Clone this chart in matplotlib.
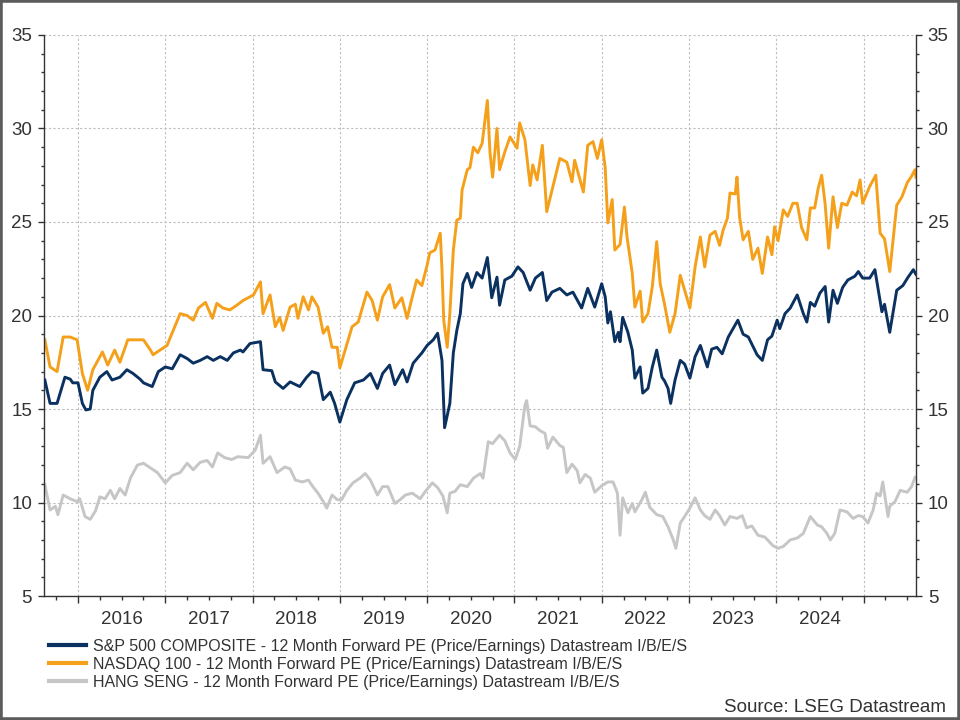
import matplotlib
matplotlib.use("Agg")
import matplotlib.pyplot as plt
from matplotlib.ticker import FixedLocator, MultipleLocator, FuncFormatter, NullFormatter
from matplotlib.patches import Rectangle
from matplotlib.lines import Line2D

plt.rcParams["font.family"] = ["Liberation Sans", "DejaVu Sans"]

# 12 month forward PE, (decimal year, value)
sp500 = [
    (2015.62, 16.55), (2015.68, 15.3), (2015.76, 15.3), (2015.85, 16.7), (2015.91, 16.6),
    (2015.94, 16.4), (2016.00, 16.4), (2016.05, 15.3), (2016.09, 14.95), (2016.14, 15.0),
    (2016.17, 16.0), (2016.25, 16.7), (2016.33, 17.0), (2016.39, 16.55), (2016.48, 16.7),
    (2016.56, 17.1), (2016.63, 16.9), (2016.71, 16.6), (2016.75, 16.4), (2016.85, 16.2),
    (2016.92, 17.0), (2017.00, 17.25), (2017.08, 17.15), (2017.17, 17.9), (2017.25, 17.7),
    (2017.32, 17.45), (2017.40, 17.6), (2017.48, 17.8), (2017.55, 17.6), (2017.63, 17.8),
    (2017.71, 17.6), (2017.78, 18.0), (2017.86, 18.15), (2017.89, 18.05), (2017.97, 18.5),
    (2018.09, 18.6), (2018.12, 17.1), (2018.22, 17.05), (2018.26, 16.45), (2018.35, 16.1),
    (2018.43, 16.45), (2018.54, 16.2), (2018.62, 16.7), (2018.68, 17.0), (2018.75, 16.9),
    (2018.81, 15.5), (2018.89, 15.9), (2018.94, 15.3), (2019.00, 14.3), (2019.08, 15.5),
    (2019.17, 16.4), (2019.27, 16.55), (2019.35, 16.9), (2019.43, 16.1), (2019.49, 16.9),
    (2019.57, 17.35), (2019.63, 16.3), (2019.72, 17.1), (2019.77, 16.45), (2019.84, 17.45),
    (2019.94, 18.0), (2020.00, 18.4), (2020.07, 18.7), (2020.12, 19.05), (2020.17, 17.6),
    (2020.20, 14.0), (2020.26, 15.3), (2020.30, 18.0), (2020.34, 19.2), (2020.38, 20.1),
    (2020.41, 21.7), (2020.46, 22.25), (2020.51, 21.5), (2020.57, 22.3), (2020.63, 22.0),
    (2020.69, 23.1), (2020.74, 20.95), (2020.80, 22.05), (2020.83, 20.55), (2020.89, 21.9),
    (2020.97, 22.1), (2021.04, 22.6), (2021.10, 22.3), (2021.18, 21.35), (2021.24, 22.0),
    (2021.32, 22.3), (2021.37, 20.8), (2021.43, 21.25), (2021.52, 21.45), (2021.60, 21.1),
    (2021.67, 21.25), (2021.77, 20.4), (2021.84, 21.45), (2021.92, 20.45), (2022.00, 21.7),
    (2022.04, 21.0), (2022.07, 19.6), (2022.10, 20.2), (2022.15, 18.6), (2022.19, 19.1),
    (2022.21, 18.6), (2022.24, 19.9), (2022.30, 19.1), (2022.35, 18.15), (2022.38, 16.65),
    (2022.44, 17.25), (2022.47, 15.85), (2022.53, 16.1), (2022.58, 17.25), (2022.63, 18.15),
    (2022.69, 16.7), (2022.72, 16.5), (2022.76, 16.1), (2022.79, 15.3), (2022.84, 16.55),
    (2022.90, 17.6), (2022.95, 17.4), (2023.01, 16.65), (2023.07, 17.8), (2023.13, 18.4),
    (2023.21, 17.25), (2023.26, 18.2), (2023.32, 18.3), (2023.38, 17.95), (2023.45, 18.85),
    (2023.56, 19.75), (2023.62, 19.0), (2023.68, 18.85), (2023.78, 17.9), (2023.84, 17.6),
    (2023.90, 18.7), (2023.95, 18.9), (2024.01, 19.75), (2024.04, 19.3), (2024.10, 20.1),
    (2024.16, 20.4), (2024.24, 21.1), (2024.31, 20.1), (2024.35, 19.65), (2024.39, 20.7),
    (2024.44, 20.5), (2024.50, 21.2), (2024.56, 21.55), (2024.60, 19.65), (2024.65, 21.35),
    (2024.70, 20.65), (2024.76, 21.5), (2024.82, 21.9), (2024.90, 22.1), (2024.94, 22.35),
    (2024.99, 22.0), (2025.07, 22.0), (2025.13, 22.45), (2025.21, 20.2), (2025.24, 20.6),
    (2025.30, 19.1), (2025.38, 21.35), (2025.45, 21.6), (2025.51, 22.05), (2025.57, 22.45),
    (2025.60, 22.2),
]

nasdaq = [
    (2015.62, 18.7), (2015.68, 17.25), (2015.76, 17.0), (2015.83, 18.85), (2015.91, 18.85),
    (2015.99, 18.7), (2016.05, 16.9), (2016.11, 16.0), (2016.17, 17.1), (2016.28, 18.05),
    (2016.34, 17.35), (2016.42, 18.15), (2016.48, 17.5), (2016.57, 18.7), (2016.68, 18.7),
    (2016.75, 18.7), (2016.83, 18.15), (2016.86, 17.9), (2016.94, 18.15), (2017.02, 18.4),
    (2017.09, 19.2), (2017.17, 20.1), (2017.25, 20.0), (2017.32, 19.75), (2017.38, 20.4),
    (2017.46, 20.7), (2017.54, 19.85), (2017.59, 20.65), (2017.66, 20.4), (2017.74, 20.3),
    (2017.82, 20.55), (2017.89, 20.8), (2018.01, 21.1), (2018.09, 21.8), (2018.12, 20.1),
    (2018.20, 21.1), (2018.26, 19.4), (2018.31, 19.9), (2018.35, 19.2), (2018.43, 20.45),
    (2018.49, 20.6), (2018.52, 19.85), (2018.58, 21.0), (2018.64, 20.3), (2018.68, 21.0),
    (2018.75, 20.45), (2018.81, 19.05), (2018.86, 19.4), (2018.91, 18.3), (2018.97, 18.3),
    (2019.00, 17.2), (2019.06, 18.15), (2019.14, 19.4), (2019.21, 19.65), (2019.31, 21.25),
    (2019.37, 20.8), (2019.43, 19.75), (2019.49, 21.0), (2019.57, 21.65), (2019.63, 20.4),
    (2019.71, 20.95), (2019.77, 19.85), (2019.83, 21.0), (2019.88, 21.9), (2019.94, 21.6),
    (2020.00, 22.7), (2020.03, 23.35), (2020.09, 23.5), (2020.15, 24.4), (2020.17, 22.45),
    (2020.19, 19.75), (2020.23, 18.3), (2020.26, 20.1), (2020.30, 23.5), (2020.34, 25.1),
    (2020.38, 25.2), (2020.40, 26.7), (2020.43, 27.25), (2020.46, 27.8), (2020.49, 27.9),
    (2020.53, 29.0), (2020.58, 28.7), (2020.63, 29.2), (2020.69, 31.5), (2020.72, 28.7),
    (2020.75, 27.4), (2020.80, 30.0), (2020.83, 27.8), (2020.89, 28.75), (2020.95, 29.55),
    (2021.03, 28.95), (2021.06, 30.3), (2021.12, 29.4), (2021.18, 26.95), (2021.21, 28.05),
    (2021.26, 27.25), (2021.32, 29.1), (2021.37, 25.55), (2021.43, 26.7), (2021.52, 28.4),
    (2021.60, 28.2), (2021.66, 27.15), (2021.69, 28.3), (2021.79, 26.6), (2021.84, 29.1),
    (2021.90, 29.3), (2021.95, 28.4), (2022.00, 29.4), (2022.04, 27.9), (2022.07, 24.95),
    (2022.12, 26.2), (2022.15, 23.5), (2022.21, 23.8), (2022.26, 25.8), (2022.29, 24.2),
    (2022.35, 22.25), (2022.38, 20.45), (2022.44, 21.3), (2022.47, 19.65), (2022.53, 20.1),
    (2022.58, 21.55), (2022.63, 23.95), (2022.67, 21.7), (2022.72, 20.6), (2022.78, 19.1),
    (2022.84, 20.1), (2022.90, 22.15), (2022.95, 21.35), (2023.01, 20.4), (2023.07, 22.6),
    (2023.13, 24.2), (2023.18, 22.6), (2023.24, 24.3), (2023.30, 24.5), (2023.35, 23.75),
    (2023.39, 24.55), (2023.44, 25.2), (2023.47, 26.55), (2023.53, 26.5), (2023.55, 27.4),
    (2023.58, 25.25), (2023.62, 24.05), (2023.68, 24.5), (2023.73, 23.0), (2023.79, 23.6),
    (2023.84, 22.25), (2023.90, 24.2), (2023.95, 23.25), (2023.98, 24.75), (2024.02, 24.0),
    (2024.08, 25.65), (2024.13, 25.3), (2024.19, 26.0), (2024.24, 26.0), (2024.29, 24.7),
    (2024.35, 24.05), (2024.39, 25.75), (2024.44, 25.75), (2024.48, 26.8), (2024.52, 27.5),
    (2024.56, 25.95), (2024.60, 23.6), (2024.65, 26.35), (2024.70, 24.7), (2024.75, 26.0),
    (2024.81, 25.9), (2024.87, 26.6), (2024.92, 26.4), (2024.96, 27.25), (2024.99, 26.0),
    (2025.07, 26.9), (2025.14, 27.5), (2025.19, 24.4), (2025.24, 24.1), (2025.30, 22.35),
    (2025.38, 25.9), (2025.44, 26.35), (2025.50, 27.1), (2025.55, 27.45), (2025.59, 27.8),
    (2025.60, 27.4),
]

hang_seng = [
    (2015.62, 10.95), (2015.68, 9.6), (2015.74, 9.8), (2015.77, 9.35), (2015.83, 10.4),
    (2015.91, 10.2), (2015.99, 10.05), (2016.02, 10.2), (2016.08, 9.25), (2016.14, 9.1),
    (2016.20, 9.55), (2016.25, 10.3), (2016.31, 10.2), (2016.37, 10.65), (2016.42, 10.2),
    (2016.48, 10.75), (2016.54, 10.4), (2016.60, 11.3), (2016.68, 12.0), (2016.75, 12.1),
    (2016.83, 11.85), (2016.91, 11.6), (2017.00, 11.05), (2017.08, 11.45), (2017.17, 11.6),
    (2017.25, 12.1), (2017.32, 11.75), (2017.40, 12.15), (2017.48, 12.25), (2017.54, 11.9),
    (2017.60, 12.65), (2017.68, 12.4), (2017.76, 12.3), (2017.83, 12.45), (2017.95, 12.4),
    (2018.03, 12.8), (2018.09, 13.6), (2018.12, 12.1), (2018.20, 12.45), (2018.28, 11.6),
    (2018.37, 11.9), (2018.43, 11.8), (2018.49, 11.2), (2018.57, 11.1), (2018.64, 11.2),
    (2018.69, 10.85), (2018.75, 10.5), (2018.81, 10.05), (2018.85, 9.7), (2018.91, 10.4),
    (2018.97, 10.15), (2019.02, 10.15), (2019.08, 10.65), (2019.15, 11.05), (2019.23, 11.3),
    (2019.29, 11.55), (2019.35, 11.2), (2019.43, 10.4), (2019.49, 10.85), (2019.55, 10.85),
    (2019.63, 9.95), (2019.69, 10.15), (2019.75, 10.4), (2019.83, 10.5), (2019.92, 10.2),
    (2019.98, 10.6), (2020.06, 11.05), (2020.12, 10.8), (2020.18, 10.35), (2020.23, 9.45),
    (2020.26, 10.5), (2020.32, 10.6), (2020.38, 10.95), (2020.46, 10.85), (2020.53, 11.3),
    (2020.61, 11.55), (2020.64, 11.3), (2020.70, 13.25), (2020.75, 13.15), (2020.83, 13.6),
    (2020.89, 13.3), (2020.95, 12.65), (2021.01, 12.3), (2021.06, 13.0), (2021.12, 15.2),
    (2021.14, 15.45), (2021.18, 14.1), (2021.24, 14.05), (2021.29, 13.85), (2021.35, 13.7),
    (2021.38, 12.9), (2021.44, 13.5), (2021.52, 13.05), (2021.56, 12.95), (2021.60, 11.6),
    (2021.66, 12.05), (2021.72, 11.7), (2021.75, 11.05), (2021.81, 11.5), (2021.87, 11.3),
    (2021.92, 10.55), (2022.00, 10.9), (2022.07, 11.1), (2022.13, 11.1), (2022.18, 10.5),
    (2022.21, 8.25), (2022.24, 10.25), (2022.30, 9.45), (2022.35, 9.95), (2022.38, 9.5),
    (2022.46, 10.15), (2022.50, 10.55), (2022.55, 9.75), (2022.63, 9.35), (2022.70, 9.25),
    (2022.76, 8.7), (2022.82, 8.0), (2022.85, 7.55), (2022.90, 8.9), (2022.95, 9.25),
    (2023.01, 9.7), (2023.07, 10.25), (2023.13, 9.6), (2023.18, 9.3), (2023.24, 9.1),
    (2023.30, 9.6), (2023.35, 9.3), (2023.41, 8.8), (2023.47, 9.25), (2023.55, 9.15),
    (2023.61, 9.3), (2023.66, 8.65), (2023.72, 8.75), (2023.79, 8.25), (2023.87, 8.15),
    (2023.96, 7.7), (2024.02, 7.55), (2024.08, 7.65), (2024.16, 8.0), (2024.24, 8.1),
    (2024.31, 8.35), (2024.39, 9.25), (2024.47, 8.8), (2024.52, 8.7), (2024.58, 8.35),
    (2024.62, 8.0), (2024.67, 8.35), (2024.73, 9.6), (2024.81, 9.5), (2024.88, 9.15),
    (2024.94, 9.3), (2024.99, 9.25), (2025.05, 8.9), (2025.11, 9.6), (2025.15, 10.5),
    (2025.19, 10.35), (2025.22, 11.1), (2025.28, 9.25), (2025.30, 9.8), (2025.36, 10.05),
    (2025.42, 10.65), (2025.50, 10.55), (2025.55, 10.85), (2025.59, 11.35),
]

labels = [
    "S&P 500 COMPOSITE - 12 Month Forward PE (Price/Earnings) Datastream I/B/E/S",
    "NASDAQ 100 - 12 Month Forward PE (Price/Earnings) Datastream I/B/E/S",
    "HANG SENG - 12 Month Forward PE (Price/Earnings) Datastream I/B/E/S",
]
colors = ["#0a3160", "#f5a01a", "#c6c6c6"]
years = list(range(2016, 2026))

fig = plt.figure(figsize=(9.6, 7.2), dpi=100)
ax = fig.add_axes([0.0458, 0.1722, 0.9083, 0.7792])

series = [sp500, nasdaq, hang_seng]
for s, c, z in zip(series, colors, [3, 2, 1]):
    t, v = zip(*s)
    ax.plot(t, v, color=c, lw=2.1, zorder=z)

ax.set_xlim(2015.61, 2025.60)
ax.set_ylim(5, 35)

# x: year boundaries as major ticks, quarters as minor, labels mid-year
ax.xaxis.set_major_locator(FixedLocator(years))
ax.xaxis.set_major_formatter(NullFormatter())
quarters = [y + q for y in range(2015, 2026) for q in (0, 0.25, 0.5, 0.75)]
quarters = [q for q in quarters if 2015.61 < q < 2025.6 and q not in years]
ax.xaxis.set_minor_locator(FixedLocator(quarters))
ax.xaxis.set_minor_formatter(FuncFormatter(
    lambda x, p: str(int(x)) if abs(x - int(x) - 0.5) < 1e-6 and int(x) < 2025 else ""))

ax.yaxis.set_major_locator(MultipleLocator(5))
ax.yaxis.set_minor_locator(MultipleLocator(1))

ax.tick_params(axis="x", which="major", direction="out", length=5, width=1, color="#333333")
ax.tick_params(axis="x", which="minor", direction="out", length=3, width=1, color="#333333",
               labelsize=13.5, labelcolor="#333333", pad=8)
ax.tick_params(axis="y", which="major", direction="out", length=4.5, width=1, color="#333333",
               labelsize=13.5, labelcolor="#333333", left=True, right=True,
               labelleft=True, labelright=True, pad=4)
ax.tick_params(axis="y", which="minor", direction="out", length=2.2, width=1, color="#333333",
               left=True, right=True)

for side in ["left", "right", "bottom"]:
    ax.spines[side].set_color("#333333")
    ax.spines[side].set_linewidth(1)
ax.spines["top"].set_visible(False)

ax.grid(which="major", color="#bdbdbd", linestyle=(0, (2, 2)), linewidth=0.8)
ax.set_axisbelow(True)

handles = [Line2D([], [], color=c, lw=3) for c in colors]
fig.legend(handles, labels, loc="upper left", bbox_to_anchor=(0.051, 0.113),
           frameon=False, fontsize=11.5, handlelength=2.3, handletextpad=0.45,
           labelspacing=0.2, borderaxespad=0, borderpad=0, labelcolor="#333333")

fig.text(0.985, 0.018, "Source: LSEG Datastream", ha="right", va="center",
         fontsize=13.5, color="#333333")

fig.patches.append(Rectangle((0, 0), 1, 1, transform=fig.transFigure, fill=False,
                             ec="#5c5c5c", lw=4))

fig.savefig("out.png", dpi=100, facecolor="white")
